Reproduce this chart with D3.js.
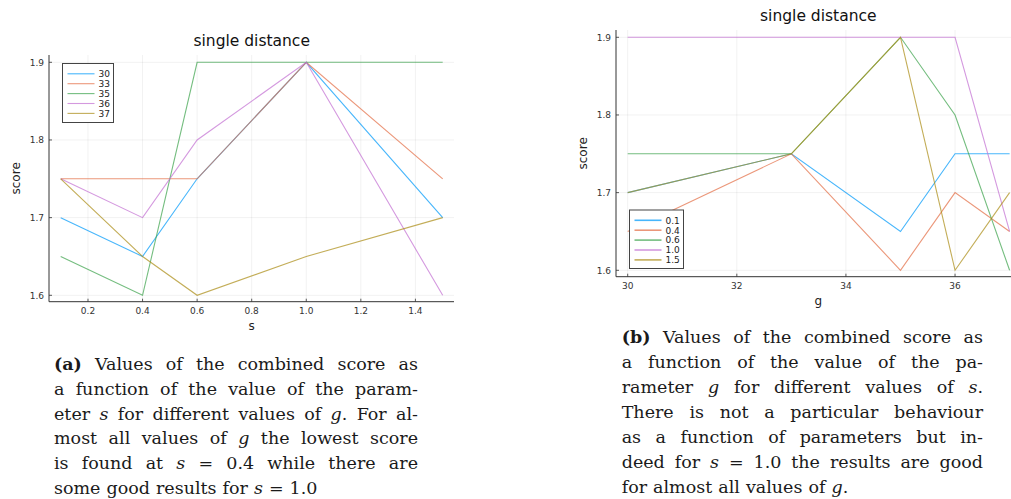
<!DOCTYPE html>
<html>
<head>
<meta charset="utf-8">
<style>
  body { margin: 0; background: #fff; }
  svg { display: block; }
  .tick-label { font-family: "DejaVu Sans", sans-serif; font-size: 9px; fill: #333; }
  .title { font-family: "DejaVu Sans", sans-serif; font-size: 15.5px; fill: #111; }
  .axis-label { font-family: "DejaVu Sans", sans-serif; font-size: 12px; fill: #222; }
  .legend-label { font-family: "DejaVu Sans", sans-serif; font-size: 9px; fill: #222; }
  .caption { font-family: "DejaVu Serif", serif; font-size: 17.5px; fill: #1a1a1a; }
</style>
</head>
<body>
<svg id="page" width="1011" height="499"></svg>

<script src="https://d3js.org/d3.v7.min.js"></script>
<script>
  // parameter values
  const sValues = [0.1, 0.4, 0.6, 1.0, 1.5];
  const gValues = [30, 33, 35, 36, 37];
  const sLabels = ['0.1', '0.4', '0.6', '1.0', '1.5'];
  const gLabels = ['30', '33', '35', '36', '37'];

  // score for each g, indexed by s
  const score30 = [1.70, 1.65, 1.75, 1.90, 1.70];
  const score33 = [1.75, 1.75, 1.75, 1.90, 1.75];
  const score35 = [1.65, 1.60, 1.90, 1.90, 1.90];
  const score36 = [1.75, 1.70, 1.80, 1.90, 1.60];
  const score37 = [1.75, 1.65, 1.60, 1.65, 1.70];
  const scoreByG = [score30, score33, score35, score36, score37];

  // tick values
  const sTicks = [0.2, 0.4, 0.6, 0.8, 1.0, 1.2, 1.4];
  const gTicks = [30, 32, 34, 36];
  const scoreTicks = [1.6, 1.7, 1.8, 1.9];

  const palette = ['#009AFA', '#E36F47', '#3EA44E', '#C371D2', '#AC8E18'];

  const svg = d3.select('#page');

  function drawPanel(p) {
    const g = svg.append('g');
    const x = d3.scaleLinear().domain(p.xDomain).range(p.xRange);
    const y = d3.scaleLinear().domain([1.6, 1.9]).range(p.yRange);

    // grid
    g.selectAll('.vgrid').data(p.xTicks).enter().append('line')
      .attr('x1', d => x(d)).attr('x2', d => x(d))
      .attr('y1', p.frame.top).attr('y2', p.frame.bottom)
      .attr('stroke', '#000').attr('stroke-opacity', 0.07).attr('stroke-width', 0.8);
    g.selectAll('.hgrid').data(scoreTicks).enter().append('line')
      .attr('x1', p.frame.left).attr('x2', p.frame.right)
      .attr('y1', d => y(d)).attr('y2', d => y(d))
      .attr('stroke', '#000').attr('stroke-opacity', 0.07).attr('stroke-width', 0.8);

    // series
    const line = d3.line().x(d => x(d[0])).y(d => y(d[1]));
    p.series.forEach((vals, i) => {
      g.append('path')
        .datum(p.xValues.map((v, j) => [v, vals[j]]))
        .attr('fill', 'none')
        .attr('stroke', palette[i])
        .attr('stroke-opacity', 0.72)
        .attr('stroke-width', 1.1)
        .attr('d', line);
    });

    // frame (left and bottom spines) with inward ticks
    g.append('line')
      .attr('x1', p.frame.left).attr('x2', p.frame.left)
      .attr('y1', p.frame.top).attr('y2', p.frame.bottom)
      .attr('stroke', '#333').attr('stroke-width', 1);
    g.append('line')
      .attr('x1', p.frame.left).attr('x2', p.frame.right)
      .attr('y1', p.frame.bottom).attr('y2', p.frame.bottom)
      .attr('stroke', '#333').attr('stroke-width', 1);

    g.selectAll('.xt').data(p.xTicks).enter().append('line')
      .attr('x1', d => x(d)).attr('x2', d => x(d))
      .attr('y1', p.frame.bottom).attr('y2', p.frame.bottom - 3)
      .attr('stroke', '#333').attr('stroke-width', 0.8);
    g.selectAll('.yt').data(scoreTicks).enter().append('line')
      .attr('x1', p.frame.left).attr('x2', p.frame.left + 3)
      .attr('y1', d => y(d)).attr('y2', d => y(d))
      .attr('stroke', '#333').attr('stroke-width', 0.8);

    g.selectAll('.xl').data(p.xTicks).enter().append('text')
      .attr('class', 'tick-label')
      .attr('x', d => x(d)).attr('y', p.frame.bottom + 12)
      .attr('text-anchor', 'middle')
      .text(d => p.xFormat(d));
    g.selectAll('.yl').data(scoreTicks).enter().append('text')
      .attr('class', 'tick-label')
      .attr('x', p.frame.left - 5).attr('y', d => y(d) + 3.3)
      .attr('text-anchor', 'end')
      .text(d => d3.format('.1f')(d));

    // title and axis labels
    g.append('text').attr('class', 'title')
      .attr('x', p.titleX).attr('y', p.frame.top - 9)
      .attr('text-anchor', 'middle').text('single distance');
    g.append('text').attr('class', 'axis-label')
      .attr('x', p.titleX).attr('y', p.frame.bottom + 28)
      .attr('text-anchor', 'middle').text(p.xName);
    g.append('text').attr('class', 'axis-label')
      .attr('transform', `translate(${p.yLabelX},${(p.frame.top + p.frame.bottom) / 2}) rotate(-90)`)
      .attr('text-anchor', 'middle').text('score');

    // legend
    const lg = g.append('g').attr('transform', `translate(${p.legend.x},${p.legend.y})`);
    lg.append('rect')
      .attr('width', p.legend.w).attr('height', p.legend.h)
      .attr('fill', '#fff').attr('stroke', '#444').attr('stroke-width', 1);
    p.legendLabels.forEach((lab, i) => {
      const yy = 10.3 + i * 9.9;
      lg.append('line')
        .attr('x1', 5).attr('x2', 32).attr('y1', yy).attr('y2', yy)
        .attr('stroke', palette[i]).attr('stroke-opacity', 0.72)
        .attr('stroke-width', p.legend.lw);
      lg.append('text').attr('class', 'legend-label')
        .attr('x', 36).attr('y', yy + 3.3).text(lab);
    });
  }

  drawPanel({
    xValues: sValues,
    series: scoreByG,
    xDomain: [0.1, 1.5], xRange: [60.7, 442.7],
    yRange: [295.3, 62.3],
    frame: { left: 49, right: 454, top: 55, bottom: 301.7 },
    xTicks: sTicks, xFormat: d3.format('.1f'),
    titleX: 251.7, xName: 's', yLabelX: 20,
    legend: { x: 62.5, y: 63.5, w: 51, h: 59, lw: 1.1 },
    legendLabels: gLabels
  });

  drawPanel({
    xValues: gValues,
    series: sValues.map((s, j) => scoreByG.map(row => row[j])),
    xDomain: [30, 37], xRange: [627.7, 1009.6],
    yRange: [270.3, 37.3],
    frame: { left: 616, right: 1021, top: 30, bottom: 276.7 },
    xTicks: gTicks, xFormat: d3.format('d'),
    titleX: 818.3, xName: 'g', yLabelX: 587,
    legend: { x: 629.5, y: 210, w: 54, h: 58.5, lw: 1.6 },
    legendLabels: sLabels
  });

  // captions, justified line by line (*x* italic, **x** bold)
  const captionA = [
    '**(a)** Values of the combined score as',
    'a function of the value of the param-',
    'eter *s* for different values of *g*. For al-',
    'most all values of *g* the lowest score',
    'is found at *s* = 0.4 while there are',
    'some good results for *s* = 1.0'
  ];
  const captionB = [
    '**(b)** Values of the combined score as',
    'a function of the value of the pa-',
    'rameter *g* for different values of *s*.',
    'There is not a particular behaviour',
    'as a function of parameters but in-',
    'deed for *s* = 1.0 the results are good',
    'for almost all values of *g*.'
  ];

  function drawCaption(lines, x0, x1, y0, step) {
    const cg = svg.append('g');
    lines.forEach((ln, li) => {
      const words = ln.split(' ');
      const nodes = words.map(w => {
        const t = cg.append('text').attr('class', 'caption').attr('y', y0 + li * step);
        w.split(/(\*\*[^*]+\*\*|\*[^*]+\*)/).filter(s => s.length).forEach(part => {
          if (part.startsWith('**')) t.append('tspan').attr('font-weight', 'bold').text(part.slice(2, -2));
          else if (part.startsWith('*')) t.append('tspan').attr('font-style', 'italic').text(part.slice(1, -1));
          else t.append('tspan').text(part);
        });
        return t;
      });
      const widths = nodes.map(n => n.node().getComputedTextLength());
      const total = d3.sum(widths);
      const last = li === lines.length - 1;
      const gap = last ? 6 : Math.max(2, (x1 - x0 - total) / (words.length - 1));
      let cx = x0;
      nodes.forEach((n, i) => { n.attr('x', cx); cx += widths[i] + gap; });
    });
  }

  drawCaption(captionA, 54, 418, 370, 24.8);
  drawCaption(captionB, 621.7, 983, 343, 25);
</script>
</body>
</html>
